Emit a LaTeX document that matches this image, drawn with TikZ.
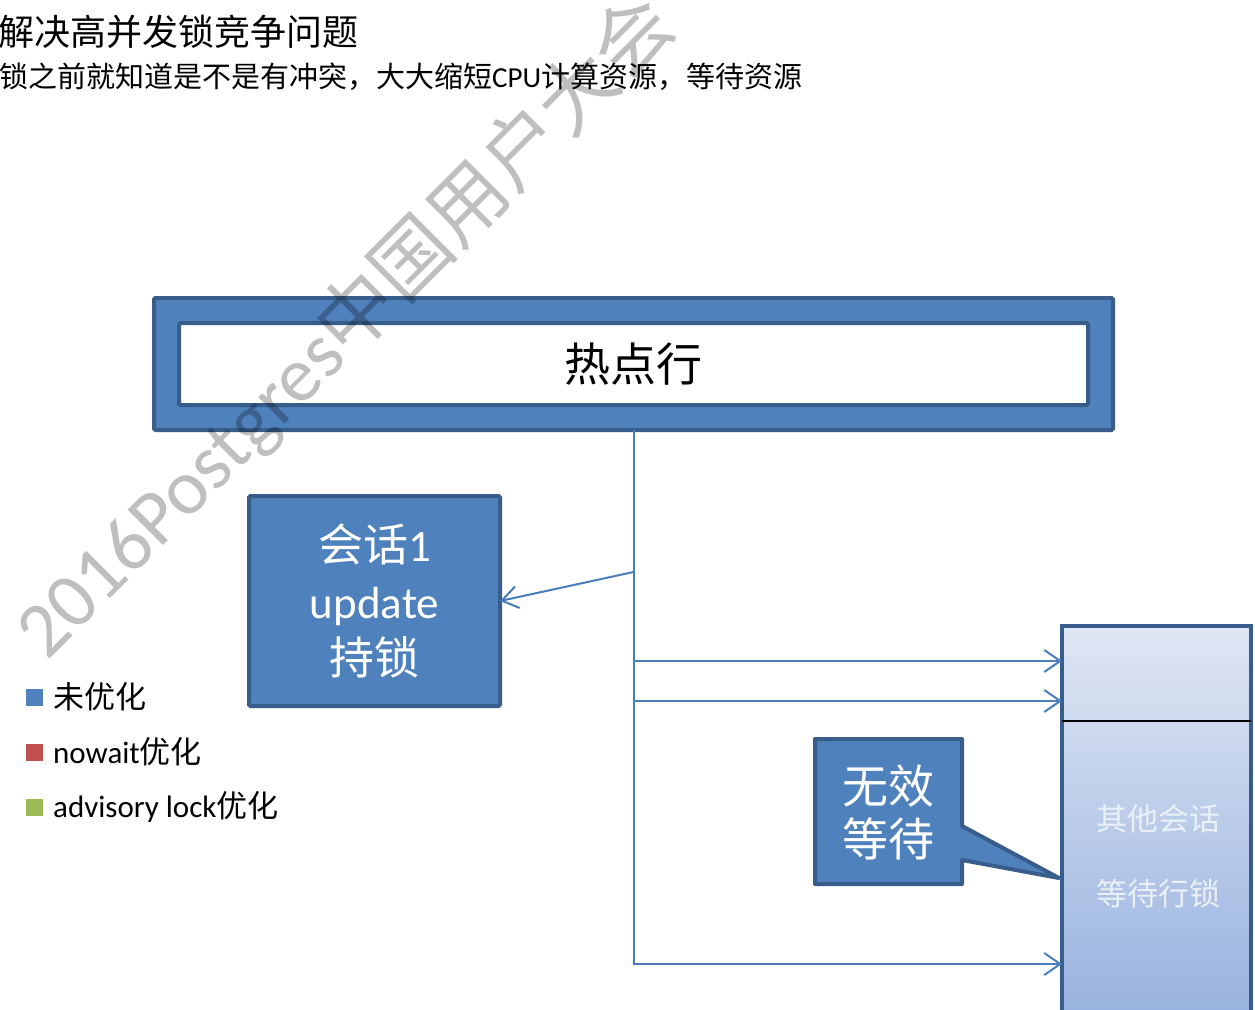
\documentclass[tikz,border=0pt]{standalone}
\usepackage{fontspec}
\setmainfont{Carlito}
\newfontfamily\cj{Noto Sans CJK SC}
\usetikzlibrary{arrows.meta}
\definecolor{boxblue}{HTML}{4F81BD}
\definecolor{boxedge}{HTML}{385D8A}
\definecolor{linkblue}{HTML}{4A7EBB}
\definecolor{lgred}{HTML}{C0504D}
\definecolor{lggreen}{HTML}{9BBB59}
\definecolor{shtop}{HTML}{DFE6F3}
\definecolor{shbot}{HTML}{97B2DF}
\definecolor{palewhite}{HTML}{EAF0F8}
\newcommand{\fsz}[2]{\fontsize{#1}{#2}\selectfont}
\begin{document}
\begin{tikzpicture}[x=1pt,y=-1pt,
  bluebox/.style={draw=boxedge, fill=boxblue, line width=4pt, rounded corners=1.5pt, outer sep=0pt, inner sep=0pt},
  conn/.style={draw=linkblue, line width=2pt},
  arr/.style={conn, -{Straight Barb[length=16pt,width=22pt]}},
  legsq/.style={minimum size=17pt, inner sep=0pt, outer sep=0pt},
  legtxt/.style={anchor=west, inner sep=0pt, font=\fsz{31}{34}},
]
\useasboundingbox (0,0) rectangle (1255,1009);
\begin{scope}
\clip (0,0) rectangle (1255,1009);

% heading texts
\node[anchor=west, inner sep=0pt, font=\cj\fsz{36}{40}] (title) at (-2,32) {解决高并发锁竞争问题};
\node[anchor=west, inner sep=0pt, font=\fsz{29}{32}] (sub) at (-1,77) {{\cj 锁之前就知道是不是有冲突，大大缩短}CPU{\cj 计算资源，等待资源}};

% legend
\node[legsq, fill=boxblue] (l1) at (34.5,697.5) {};
\node[legsq, fill=lgred] (l2) at (34.5,752.5) {};
\node[legsq, fill=lggreen] (l3) at (34.5,807.5) {};
\node[legtxt] (t1) at (53,697) {{\cj 未优化}};
\node[legtxt] (t2) at (53,752) {nowait{\cj 优化}};
\node[legtxt] (t3) at (53,807) {advisory lock{\cj 优化}};

% hot row frame
\node[bluebox, minimum width=959pt, minimum height=132pt] (hot) at (633.5,364) {};
\node[draw=boxedge, fill=white, line width=4pt, rounded corners=1.5pt, inner sep=0pt, outer sep=0pt,
      minimum width=909pt, minimum height=82pt, font=\cj\fsz{46}{50}] (hotin) at (633.5,364) {热点行};

% session 1
\node[bluebox, minimum width=251pt, minimum height=210pt, text=white, align=center, font=\fsz{45}{56.5}]
  (s1) at (374.5,601) {{\cj 会话}1\\update\\{\cj 持锁}};

% other sessions box
\node[draw=boxedge, line width=4pt, top color=shtop, bottom color=shbot, inner sep=0pt, outer sep=0pt,
      minimum width=189pt, minimum height=394pt, anchor=north west] (other) at (1062,626) {};
\coordinate (sepl) at (1062,721);
\draw[black, line width=1.5pt] (sepl) -- (sepl -| other.east);
\node[text=palewhite, align=center, font=\cj\fsz{31}{75}] (othertxt) at (1158,856) {其他会话\\等待行锁};

% connectors
\coordinate (ja) at (633.5,572);
\coordinate (jb) at (633.5,661);
\coordinate (jc) at (633.5,701);
\coordinate (jd) at (633.5,964);
\draw[arr] (hot.south) |- (jd -| other.west);
\draw[arr] (ja) -- (s1.east);
\draw[arr] (jb) -- (jb -| other.west);
\draw[arr] (jc) -- (jc -| other.west);

% callout
\draw[draw=boxedge, fill=boxblue, line width=4pt, line join=round]
  (815,739) -- (962,739) -- (962,826) -- (1059,878) -- (962,860) -- (962,884) -- (815,884) -- cycle;
\node[text=white, align=center, font=\cj\fsz{46}{53}] (wait) at (888.5,812) {无效\\等待};

% watermark
\node[rotate=45, text=black, text opacity=0.25, inner sep=0pt, font=\fsz{78}{82}] (wm) at (345,327) {2016Postgres{\cj 中国用户大会}};
\end{scope}
\end{tikzpicture}
\end{document}
